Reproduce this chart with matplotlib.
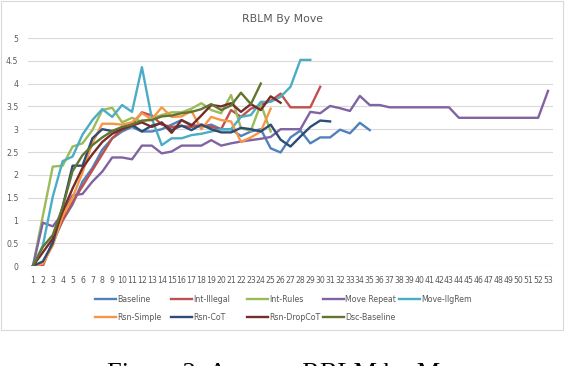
import matplotlib
matplotlib.use("Agg")
import matplotlib.pyplot as plt
from matplotlib.lines import Line2D
from matplotlib.patches import Rectangle

moves = list(range(1, 54))

baseline = [0, 0.05, 0.5, 1.0, 1.35, 1.85, 2.15, 2.55, 2.8, 2.95, 3.05, 2.95, 2.95, 3.0, 3.1,
            3.2, 3.1, 3.05, 3.1, 3.0, 3.0, 2.85, 2.95, 3.0, 2.58, 2.49, 2.82, 2.97, 2.69, 2.82,
            2.82, 2.99, 2.91, 3.14, 2.98]
int_illegal = [0, 0, 0.55, 1.0, 1.4, 1.75, 2.1, 2.45, 2.8, 3.0, 3.1, 3.37, 3.3, 3.1, 3.05,
               3.07, 3.05, 3.1, 3.05, 3.0, 3.42, 3.27, 3.45, 3.53, 3.62, 3.78, 3.48, 3.48, 3.48, 3.93]
int_rules = [0, 1.1, 2.18, 2.2, 2.62, 2.69, 2.98, 3.42, 3.47, 3.15, 3.25, 3.16, 3.24, 3.31, 3.37,
             3.37, 3.45, 3.57, 3.42, 3.35, 3.75, 3.02, 2.97, 3.55, 2.95]
move_repeat = [0, 0.95, 0.87, 1.15, 1.55, 1.58, 1.85, 2.07, 2.38, 2.38,
               2.34, 2.64, 2.64, 2.47, 2.51, 2.64, 2.64, 2.64, 2.76, 2.64,
               2.69, 2.73, 2.76, 2.79, 2.83, 3.0, 3.0, 3.0, 3.38, 3.35,
               3.51, 3.46, 3.4, 3.73, 3.53, 3.53, 3.48, 3.48, 3.48, 3.48,
               3.48, 3.48, 3.48, 3.25, 3.25, 3.25, 3.25, 3.25, 3.25, 3.25,
               3.25, 3.25, 3.84]
move_ilgrem = [0, 0.45, 1.52, 2.3, 2.4, 2.88, 3.2, 3.44, 3.27, 3.53, 3.38, 4.36, 3.24, 2.65, 2.8,
               2.8, 2.87, 2.9, 2.95, 3.0, 3.0, 3.27, 3.31, 3.6, 3.6, 3.71, 3.93, 4.52, 4.52]
rsn_simple = [0, 0.05, 0.45, 1.1, 1.5, 2.05, 2.7, 3.12, 3.12, 3.1, 3.15, 3.35, 3.22, 3.48, 3.27,
              3.28, 3.4, 3.0, 3.27, 3.2, 3.17, 2.72, 2.82, 2.95, 3.45]
rsn_cot = [0, 0.1, 0.5, 1.3, 2.2, 2.2, 2.8, 3.0, 2.96, 3.02, 3.1, 2.95, 3.08, 3.13, 2.98,
           3.08, 2.98, 3.1, 3.0, 2.93, 2.93, 3.03, 3.0, 2.95, 3.1, 2.77, 2.62, 2.84, 3.05, 3.19, 3.17]
rsn_dropcot = [0, 0.3, 0.6, 1.2, 1.7, 2.15, 2.45, 2.72, 2.9, 3.0, 3.08, 3.15, 3.05, 3.15, 2.92,
               3.2, 3.08, 3.3, 3.53, 3.5, 3.57, 3.38, 3.55, 3.42, 3.72, 3.58]
dsc_baseline = [0, 0.42, 0.68, 1.3, 2.08, 2.43, 2.65, 2.82, 2.96, 3.05, 3.1, 3.19, 3.2, 3.28, 3.3,
                3.35, 3.38, 3.44, 3.55, 3.42, 3.52, 3.8, 3.55, 4.0]

names = ["Baseline", "Int-Illegal", "Int-Rules", "Move Repeat", "Move-IlgRem",
         "Rsn-Simple", "Rsn-CoT", "Rsn-DropCoT", "Dsc-Baseline"]
series = [baseline, int_illegal, int_rules, move_repeat, move_ilgrem,
          rsn_simple, rsn_cot, rsn_dropcot, dsc_baseline]
colors = ["#4F81BD", "#C0504D", "#9BBB59", "#8064A2", "#4BACC6",
          "#F79646", "#2C4D75", "#772C2A", "#5F7530"]

W, H = 566, 366
fig = plt.figure(figsize=(W / 100, H / 100), dpi=100)
ax = fig.add_axes([28 / W, 1 - 266 / H, (553 - 28) / W, (266 - 38) / H])

for vals, c in zip(series, colors):
    ax.plot(moves[:len(vals)], vals, color=c, lw=1.7, solid_joinstyle="round", zorder=3)

ax.set_xlim(0.5, 53.5)
ax.set_ylim(0, 5)
ax.set_yticks([i * 0.5 for i in range(11)])
ax.set_yticklabels(["0", "0.5", "1", "1.5", "2", "2.5", "3", "3.5", "4", "4.5", "5"])
ax.set_xticks(moves)
ax.set_xticklabels([str(m) for m in moves])
ax.tick_params(axis="both", length=0, labelsize=5.6, labelcolor="#595959")
ax.tick_params(axis="y", pad=7)
ax.tick_params(axis="x", pad=7)
ax.grid(axis="y", color="#d9d9d9", lw=0.8, zorder=0)
for s in ax.spines.values():
    s.set_visible(False)

fig.text(283 / W, 1 - 19 / H, "RBLM By Move", ha="center", va="center",
         fontsize=7.8, color="#595959")

# legend drawn by hand, Excel style: equal column widths, row-major
for i, (name, c) in enumerate(zip(names, colors)):
    row, col = divmod(i, 5)
    x0 = 95 + 76 * col
    y0 = 299 + 18 * row
    fig.add_artist(Line2D([x0 / W, (x0 + 21) / W], [1 - y0 / H, 1 - y0 / H],
                          color=c, lw=1.7, transform=fig.transFigure))
    fig.text((x0 + 22) / W, 1 - y0 / H, name, ha="left", va="center",
             fontsize=5.7, color="#595959")

fig.add_artist(Rectangle((1 / W, 1 - 330 / H), (563 - 1) / W, (330 - 1) / H,
                         transform=fig.transFigure, fill=False,
                         edgecolor="#d9d9d9", lw=0.8))

# caption of the paper figure, cut by the bottom edge as in the source
fig.text(107 / W, 1 - 380 / H, "Figure 2: Average RBLM by Move", ha="left",
         va="baseline", fontsize=19, family="Liberation Serif", color="black")

fig.savefig("out.png", dpi=100)
